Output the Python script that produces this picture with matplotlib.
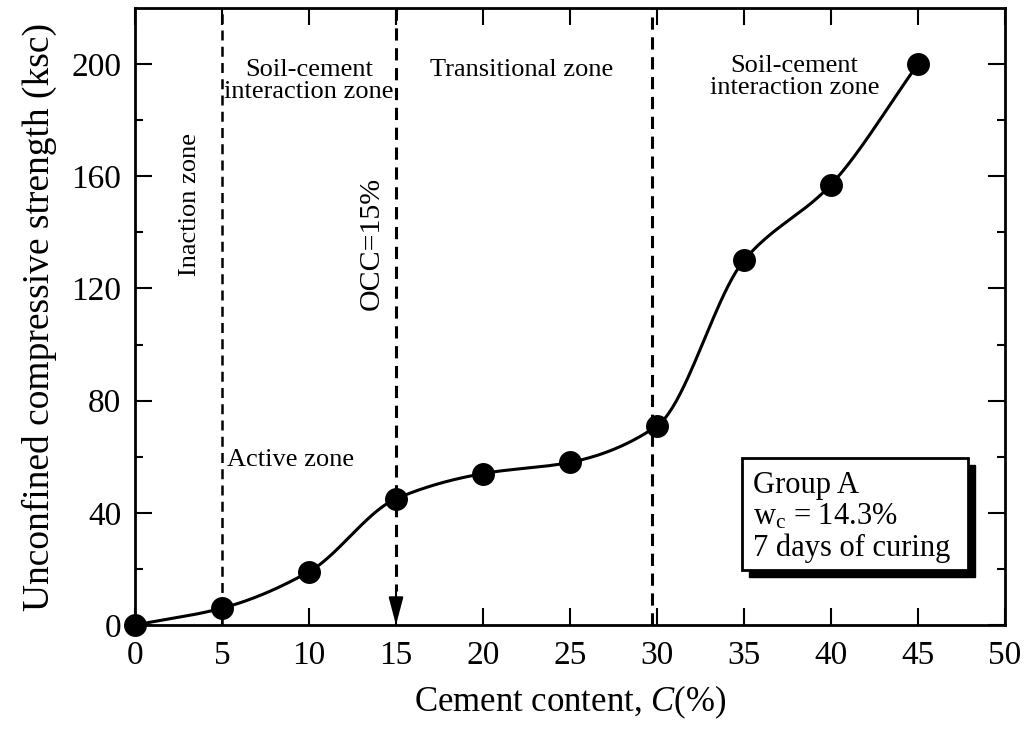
import numpy as np
import matplotlib
matplotlib.use('Agg')
from matplotlib import pyplot as plt
from matplotlib.patches import Rectangle

plt.rcParams['font.family'] = ['Liberation Serif', 'DejaVu Serif']
plt.rcParams['mathtext.fontset'] = 'custom'
plt.rcParams['mathtext.rm'] = 'Liberation Serif'
plt.rcParams['mathtext.it'] = 'Liberation Serif:italic'

# data
cement = [0, 5, 10, 15, 20, 25, 30, 35, 40, 45]
strength = [0, 6, 19, 45, 54, 58, 71, 130, 157, 200]
x_ticks = [0, 5, 10, 15, 20, 25, 30, 35, 40, 45, 50]
y_ticks = [0, 40, 80, 120, 160, 200]
zone_lines = [5, 29.7]
occ = 15


def pchip(x, y, xs):
    # monotone cubic through the measured points (smooth curve of the figure)
    x = np.asarray(x, float)
    y = np.asarray(y, float)
    h = np.diff(x)
    d = np.diff(y) / h
    n = len(x)
    m = np.zeros(n)
    for k in range(1, n - 1):
        if d[k - 1] * d[k] <= 0:
            m[k] = 0
        else:
            w1 = 2 * h[k] + h[k - 1]
            w2 = h[k] + 2 * h[k - 1]
            m[k] = (w1 + w2) / (w1 / d[k - 1] + w2 / d[k])
    m[0] = d[0]
    m[-1] = d[-1]
    out = np.empty_like(xs)
    for i, xv in enumerate(xs):
        k = min(np.searchsorted(x, xv, side='right') - 1, n - 2)
        t = (xv - x[k]) / h[k]
        h00 = 2 * t**3 - 3 * t**2 + 1
        h10 = t**3 - 2 * t**2 + t
        h01 = -2 * t**3 + 3 * t**2
        h11 = t**3 - t**2
        out[i] = h00 * y[k] + h10 * h[k] * m[k] + h01 * y[k + 1] + h11 * h[k] * m[k + 1]
    return out


fig = plt.figure(figsize=(10.27, 7.31), dpi=100)
ax = fig.add_axes([0.1315, 0.145, 0.847, 0.844])

xs = np.linspace(cement[0], cement[-1], 400)
ax.plot(xs, pchip(cement, strength, xs), 'k-', lw=2.2)
ax.plot(cement, strength, 'ko', ms=15.5, clip_on=False, zorder=5)

for xl in zone_lines:
    ax.axvline(xl, color='k', ls=(0, (4, 2.5)), lw=1.8 if xl == 5 else 2.2)
ax.plot([occ, occ], [220, 12], color='k', ls=(0, (4, 2.5)), lw=2.2)
ax.annotate('', xy=(occ, 0), xytext=(occ, 12.5),
            arrowprops=dict(arrowstyle='-|>,head_width=0.45,head_length=1.7',
                            color='k', lw=1.5, shrinkA=0, shrinkB=0))

ax.set_xlim(0, 50)
ax.set_ylim(0, 220)
ax.set_xticks(x_ticks)
ax.set_yticks(y_ticks)
ax.set_yticks(np.arange(20, 220, 40), minor=True)
ax.tick_params(which='both', direction='in', top=True, right=True,
               labelsize=24, width=1.5)
ax.tick_params(which='major', length=12)
ax.tick_params(which='minor', length=6)
ax.tick_params(axis='x', pad=11)
ax.tick_params(axis='y', pad=10)
for s in ax.spines.values():
    s.set_linewidth(2)

ax.set_xlabel('Cement content, $\\mathit{C}$(%)', fontsize=25, labelpad=9)
ax.set_ylabel('Unconfined compressive strength (ksc)', fontsize=27, labelpad=10)

fs = 19
ax.text(3.15, 150, 'Inaction zone', rotation=90, ha='center', va='center', fontsize=fs)
ax.text(10.0, 194, 'Soil-cement\ninteraction zone', ha='center', va='center',
        fontsize=fs, linespacing=1.0)
ax.text(22.2, 198, 'Transitional zone', ha='center', va='center', fontsize=fs)
ax.text(37.9, 195.5, 'Soil-cement\ninteraction zone', ha='center', va='center',
        fontsize=fs, linespacing=1.0)
ax.text(5.3, 59, 'Active zone', ha='left', va='center', fontsize=fs)
ax.text(13.6, 136, 'OCC=15%', rotation=90, ha='center', va='center', fontsize=21.5)

# boxed note with shadow
ax.add_patch(Rectangle((35.3, 17.0), 13.0, 40, facecolor='k', edgecolor='k', zorder=6))
ax.add_patch(Rectangle((34.9, 19.6), 13.0, 40, facecolor='w', edgecolor='k', lw=2, zorder=7))
ax.text(35.5, 38.5, 'Group A\nw$_\\mathrm{c}$ = 14.3%\n7 days of curing', ha='left', va='center',
        fontsize=22, linespacing=1.1, zorder=8)

fig.savefig('out.png', dpi=100)
